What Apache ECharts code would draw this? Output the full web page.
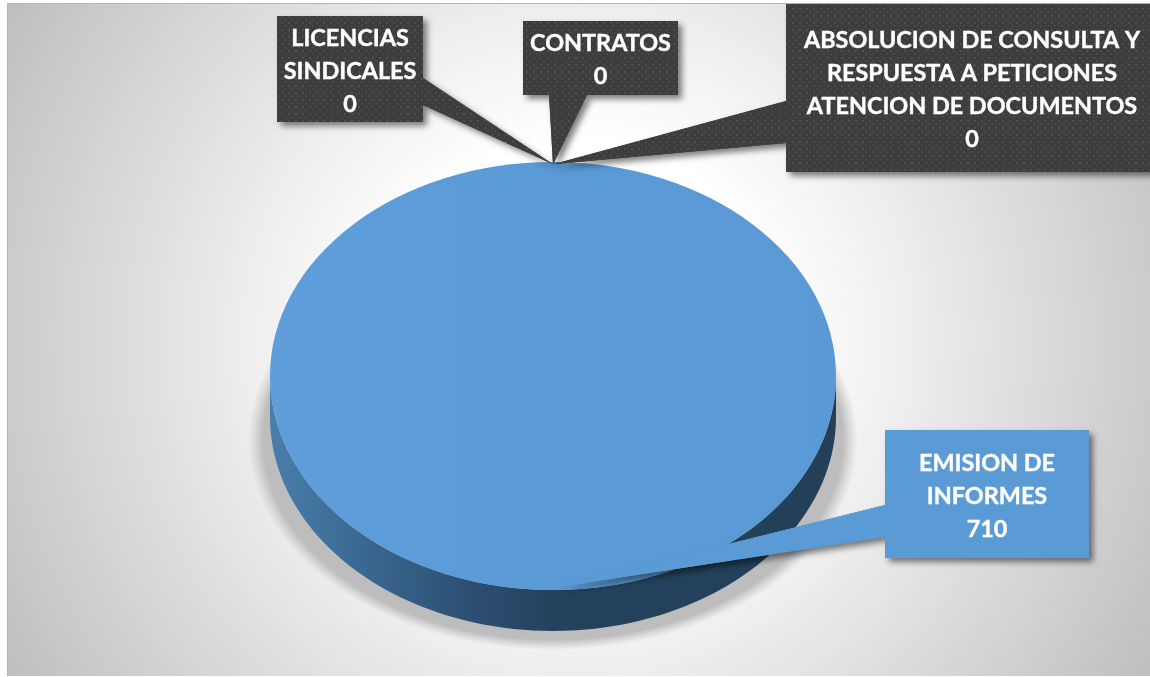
<!DOCTYPE html>
<html>
<head>
<meta charset="utf-8">
<title>Informes</title>
<script src="https://cdn.jsdelivr.net/npm/echarts@6/dist/echarts.min.js"></script>
<style>
  html, body { margin: 0; padding: 0; background: #fff; }
  #chart { width: 1150px; height: 677px; }
</style>
</head>
<body>
<div id="chart"></div>
<script>
// Chart data
const categories = [
  'EMISION DE\nINFORMES',
  'LICENCIAS\nSINDICALES',
  'CONTRATOS',
  'ABSOLUCION DE CONSULTA Y\nRESPUESTA A PETICIONES\nATENCION DE DOCUMENTOS'
]
const values = [710, 0, 0, 0]

// Pie geometry (flattened disc)
const cx = 553
const cy = 376
const rx = 283
const ry = 214
const depth = 41

// Callout boxes, same order as categories
const boxes = [
  { x: 885, y: 430, w: 204, h: 128, root: [[885, 505], [885, 537]], dark: false },
  { x: 277, y: 16, w: 146, h: 106, root: [[423, 78], [423, 105]], dark: true },
  { x: 523, y: 21, w: 155, h: 74, root: [[549, 95], [587, 95]], dark: true },
  { x: 786, y: 4, w: 370, h: 168, root: [[786, 101], [786, 143]], dark: true, textX: 972 }
]

const total = values.reduce((a, b) => a + b, 0)
const BLUE = '#5b9bd5'

// Slice angles, clockwise from 12 o'clock
const sliceAngles = []
let acc = 0
values.forEach(v => {
  const start = acc / total * Math.PI * 2 - Math.PI / 2
  acc += v
  sliceAngles.push({ start, end: acc / total * Math.PI * 2 - Math.PI / 2 })
})

// Dotted texture of the dark boxes
const makeDots = () => {
  const c = document.createElement('canvas')
  c.width = 7
  c.height = 7
  const g = c.getContext('2d')
  g.fillStyle = '#3d3d3d'
  g.fillRect(0, 0, 7, 7)
  g.fillStyle = '#4e4e4e'
  g.fillRect(1, 1, 2, 2)
  g.fillStyle = '#474747'
  g.fillRect(4, 4, 2, 2)
  return c
}
const dots = { image: makeDots(), repeat: 'repeat' }

// Shadow on the floor + side wall of the disc
const renderBase = () => {
  const wall = []
  for (let a = 0; a <= 180; a += 2) {
    const t = a * Math.PI / 180
    wall.push([cx + rx * Math.cos(t), cy + ry * Math.sin(t)])
  }
  for (let a = 180; a >= 0; a -= 2) {
    const t = a * Math.PI / 180
    wall.push([cx + rx * Math.cos(t), cy + depth + ry * Math.sin(t)])
  }
  return {
    type: 'group',
    children: [
      {
        type: 'circle',
        x: cx,
        y: 440,
        scaleY: 210 / 305,
        shape: { cx: 0, cy: 0, r: 305 },
        style: {
          fill: {
            type: 'radial', x: 0.5, y: 0.5, r: 0.5,
            colorStops: [
              { offset: 0, color: '#bdbdbd' },
              { offset: 0.95, color: '#bdbdbd' },
              { offset: 0.98, color: 'rgba(189,189,189,0.35)' },
              { offset: 1, color: 'rgba(189,189,189,0)' }
            ]
          }
        }
      },
      {
        type: 'polygon',
        shape: { points: wall },
        style: {
          fill: {
            type: 'linear', x: 0, y: 0, x2: 1, y2: 0,
            colorStops: [
              { offset: 0, color: '#4a7eab' },
              { offset: 0.15, color: '#3b6a94' },
              { offset: 0.35, color: '#2d4f72' },
              { offset: 0.5, color: '#24425e' },
              { offset: 1, color: '#234058' }
            ]
          }
        }
      }
    ]
  }
}

// One wedge per category, flattened with scaleY
const renderSlice = (params) => {
  const s = sliceAngles[params.dataIndex]
  if (s.end <= s.start) return null
  return {
    type: 'sector',
    x: cx,
    y: cy,
    scaleY: ry / rx,
    shape: { cx: 0, cy: 0, r0: 0, r: rx, startAngle: s.start, endAngle: s.end },
    style: {
      fill: {
        type: 'linear', x: 0, y: 0, x2: 1, y2: 0,
        colorStops: [
          { offset: 0, color: '#5f9edb' },
          { offset: 0.5, color: '#5a9ad5' },
          { offset: 1, color: '#5a99d6' }
        ]
      }
    }
  }
}

// Callout box with tail pointing just inside the slice's rim
const renderCallout = (params, api) => {
  const i = params.dataIndex
  const b = boxes[i]
  const s = sliceAngles[i]
  const mid = (s.start + s.end) / 2
  const tip = [cx + 0.99 * rx * Math.cos(mid), cy + 0.99 * ry * Math.sin(mid)]
  const fill = b.dark ? dots : BLUE
  const shadow = { shadowBlur: 6, shadowColor: 'rgba(0,0,0,0.5)', shadowOffsetX: 4, shadowOffsetY: 4 }
  return {
    type: 'group',
    children: [
      { type: 'polygon', shape: { points: [b.root[0], b.root[1], tip] }, style: { fill, ...shadow } },
      { type: 'rect', shape: { x: b.x, y: b.y, width: b.w, height: b.h }, style: { fill, ...shadow } },
      { type: 'polygon', shape: { points: [b.root[0], b.root[1], tip] }, style: { fill } },
      {
        type: 'text',
        style: {
          text: categories[i] + '\n' + api.value(0),
          x: b.textX || b.x + b.w / 2,
          y: b.y + b.h / 2 + 2,
          align: 'center',
          verticalAlign: 'middle',
          fill: '#fff',
          stroke: '#fff',
          lineWidth: 0.4,
          font: 'bold 23.4px Lato',
          lineHeight: 33,
          shadowBlur: 3,
          shadowColor: 'rgba(0,0,0,0.35)',
          shadowOffsetX: 1,
          shadowOffsetY: 1
        }
      }
    ]
  }
}

const chart = echarts.init(document.getElementById('chart'))
chart.setOption({
  animation: false,
  backgroundColor: '#fff',
  graphic: [
    {
      type: 'rect',
      z: -1,
      silent: true,
      shape: { x: 7, y: 3, width: 1143, height: 673 },
      style: {
        fill: {
          type: 'radial', x: 578, y: 340, r: 660, global: true,
          colorStops: [
            { offset: 0, color: '#ffffff' },
            { offset: 0.3, color: '#ffffff' },
            { offset: 0.5, color: '#eeeeee' },
            { offset: 1, color: '#bfbfbf' }
          ]
        }
      }
    },
    {
      type: 'polyline',
      z: -1,
      silent: true,
      shape: { points: [[7.5, 676], [7.5, 3.5], [1150, 3.5]] },
      style: { stroke: '#b4b4b4', fill: null, lineWidth: 1 }
    }
  ],
  series: [
    { type: 'custom', coordinateSystem: 'none', silent: true, z: 1, renderItem: renderBase, data: [total] },
    { type: 'custom', coordinateSystem: 'none', silent: true, z: 2, renderItem: renderSlice, data: values },
    { type: 'custom', coordinateSystem: 'none', silent: true, z: 3, renderItem: renderCallout, data: values }
  ]
})
</script>
</body>
</html>
